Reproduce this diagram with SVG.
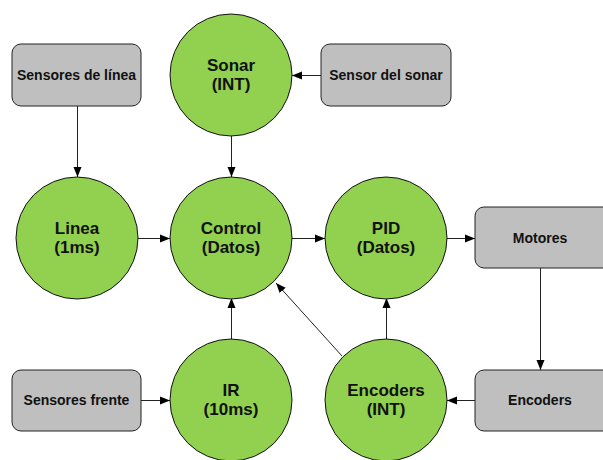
<svg xmlns="http://www.w3.org/2000/svg" width="603" height="460" viewBox="0 0 603 460">
<defs>
<style>
.c{fill:#92d050;stroke:#111;stroke-width:1}
.b{fill:#bfbfbf;stroke:#222;stroke-width:1}
.t{font-family:"Liberation Sans",Arial,sans-serif;font-weight:bold;text-anchor:middle;fill:#111}
.ct{font-size:17px}
.bt{font-size:14px}
.e{stroke:#222;stroke-width:1;fill:none;marker-end:url(#a)}
</style>
<marker id="a" viewBox="0 0 10 10" refX="10" refY="5" markerWidth="10" markerHeight="10" markerUnits="userSpaceOnUse" orient="auto">
<path d="M0,1 L10,5 L0,9 Z" fill="#000"/>
</marker>
</defs>
<g id="connectors">
<line class="e" x1="77.5" y1="106" x2="77.5" y2="177"/>
<line class="e" x1="321" y1="75.5" x2="292" y2="75.5"/>
<line class="e" x1="231.5" y1="136" x2="231.5" y2="177"/>
<line class="e" x1="137" y1="238.5" x2="170" y2="238.5"/>
<line class="e" x1="292" y1="238.5" x2="325" y2="238.5"/>
<line class="e" x1="447" y1="238.5" x2="475" y2="238.5"/>
<line class="e" x1="540.5" y1="268" x2="540.5" y2="370"/>
<line class="e" x1="475" y1="400.5" x2="447" y2="400.5"/>
<line class="e" x1="386.5" y1="339" x2="386.5" y2="298"/>
<line class="e" x1="231.5" y1="339" x2="231.5" y2="298"/>
<line class="e" x1="141" y1="400.5" x2="170" y2="400.5"/>
<line class="e" x1="342" y1="356" x2="276" y2="283"/>
</g>
<g id="sensores-linea"><rect class="b" x="12" y="44" width="129" height="62" rx="9"/><text class="t bt" x="76.5" y="80">Sensores de línea</text></g>
<g id="sonar"><circle class="c" cx="231" cy="75" r="61"/><text class="t ct" x="231" y="71">Sonar</text><text class="t ct" x="231" y="90">(INT)</text></g>
<g id="sensor-sonar"><rect class="b" x="321" y="44" width="130" height="62" rx="9"/><text class="t bt" x="386" y="80">Sensor del sonar</text></g>
<g id="linea"><circle class="c" cx="77" cy="238" r="61"/><text class="t ct" x="77" y="234">Linea</text><text class="t ct" x="77" y="253">(1ms)</text></g>
<g id="control"><circle class="c" cx="231" cy="238" r="61"/><text class="t ct" x="231" y="234">Control</text><text class="t ct" x="231" y="253">(Datos)</text></g>
<g id="pid"><circle class="c" cx="386" cy="238" r="61"/><text class="t ct" x="386" y="234">PID</text><text class="t ct" x="386" y="253">(Datos)</text></g>
<g id="motores"><rect class="b" x="475" y="207" width="140" height="61" rx="9"/><text class="t bt" x="540" y="243">Motores</text></g>
<g id="sensores-frente"><rect class="b" x="12" y="370" width="129" height="61" rx="9"/><text class="t bt" x="76.5" y="405">Sensores frente</text></g>
<g id="ir"><circle class="c" cx="231" cy="400" r="61"/><text class="t ct" x="231" y="396">IR</text><text class="t ct" x="231" y="415">(10ms)</text></g>
<g id="encoders-int"><circle class="c" cx="386" cy="400" r="61"/><text class="t ct" x="386" y="396">Encoders</text><text class="t ct" x="386" y="415">(INT)</text></g>
<g id="encoders"><rect class="b" x="475" y="370" width="140" height="61" rx="9"/><text class="t bt" x="540" y="405">Encoders</text></g>
</svg>
